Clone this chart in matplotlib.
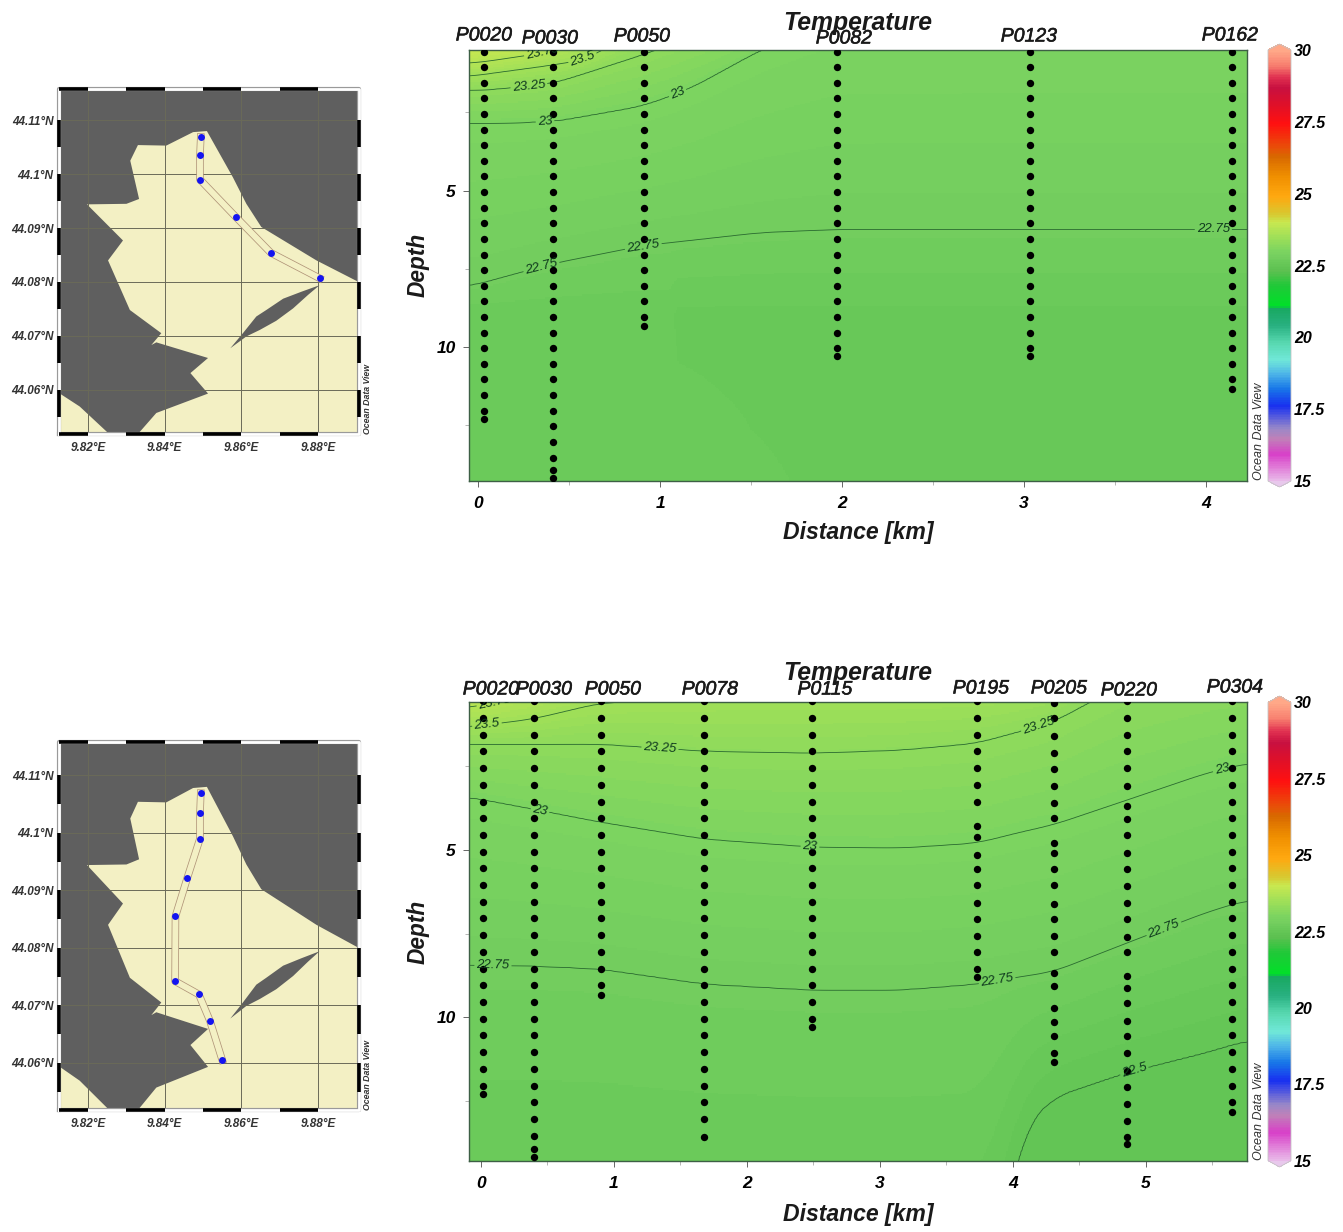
import numpy as np
import matplotlib
matplotlib.use("Agg")
from matplotlib import pyplot as plt
from matplotlib import patheffects
from matplotlib.colors import LinearSegmentedColormap, Normalize
from matplotlib.cm import ScalarMappable

plt.rcParams['font.family'] = ['Liberation Sans', 'DejaVu Sans']

W, H = 1343, 1232

# --- map data (lon, lat) ---
sea_lon = [9.8906, 9.8796, 9.8652, 9.8613, 9.8578, 9.8510, 9.8474, 9.8404, 9.8330, 9.8310, 9.8333, 9.8300,
           9.8197, 9.8291, 9.8252, 9.8309, 9.8391, 9.8365, 9.8378, 9.8513, 9.8467, 9.8513, 9.8378, 9.8330, 9.8907]
sea_lat = [44.0800, 44.0840, 44.0902, 44.0945, 44.0994, 44.1080, 44.1078, 44.1053, 44.1054, 44.1025, 44.0954, 44.0945,
           44.0944, 44.0877, 44.0840, 44.0748, 44.0705, 44.0683, 44.0688, 44.0659, 44.0631, 44.0593, 44.0557, 44.0518, 44.0518]
corner_lon = [9.8124, 9.8178, 9.8252, 9.8260, 9.8124]
corner_lat = [44.0594, 44.0569, 44.0520, 44.0518, 44.0518]
island_lon = [9.8804, 9.8757, 9.8709, 9.8665, 9.8639, 9.8604, 9.8571, 9.8613, 9.8648, 9.8691, 9.8735, 9.8774]
island_lat = [44.0794, 44.0782, 44.0769, 44.0748, 44.0736, 44.0705, 44.0677, 44.0699, 44.0711, 44.0728, 44.0751, 44.0776]

track1_lon = [9.8494, 9.8492, 9.8492, 9.8585, 9.8677, 9.8804]
track1_lat = [44.1069, 44.1035, 44.0990, 44.0921, 44.0854, 44.0807]
track2_lon = [9.8494, 9.8492, 9.8492, 9.8459, 9.8428, 9.8427, 9.8489, 9.8518, 9.8550]
track2_lat = [44.1069, 44.1034, 44.0990, 44.0922, 44.0855, 44.0742, 44.0719, 44.0673, 44.0605]

lon_ticks = [9.82, 9.84, 9.86, 9.88]
lat_ticks = [44.11, 44.10, 44.09, 44.08, 44.07, 44.06]
lon_tick_labels = ['9.82°E', '9.84°E', '9.86°E', '9.88°E']
lat_tick_labels = ['44.11°N', '44.1°N', '44.09°N', '44.08°N', '44.07°N', '44.06°N']

# --- station data ---
levels = [0.55, 1.05, 1.55, 2.05, 2.55, 3.05, 3.55, 4.05, 4.55, 5.05, 5.55, 6.05, 6.55, 7.05, 7.55, 8.05, 8.55,
          9.05, 9.55, 10.05, 10.55, 11.05, 11.55, 12.05, 12.55, 13.05, 13.55, 13.95]

names1 = ['P0020', 'P0030', 'P0050', 'P0082', 'P0123', 'P0162']
dist1 = [0.03, 0.41, 0.91, 1.97, 3.03, 4.14]
bottom1 = [12.3, 14.2, 9.33, 10.3, 10.3, 11.35]

names2 = ['P0020', 'P0030', 'P0050', 'P0078', 'P0115', 'P0195', 'P0205', 'P0220', 'P0304']
dist2 = [0.015, 0.40, 0.90, 1.68, 2.49, 3.73, 4.31, 4.86, 5.65]
bottom2 = [12.3, 14.2, 9.34, 13.6, 10.3, 8.8, 11.35, 13.8, 12.85]
p0195_depths = [0.55, 1.05, 1.55, 2.05, 2.55, 3.05, 3.55, 4.28, 4.6, 5.15, 5.57, 6.05, 6.6, 7.07, 7.57, 8.05, 8.57, 8.8]
p0205_depths = [0.6, 1.05, 1.58, 2.1, 2.57, 3.08, 3.6, 4.05, 4.79, 5.09, 5.57, 6.05, 6.62, 7.07, 7.57, 8.05, 8.68,
                9.07, 9.73, 10.15, 10.57, 11.08, 11.35]
p0220_depths = [0.55, 1.05, 1.55, 2.05, 2.55, 3.08, 3.68, 4.07, 4.55, 5.09, 5.57, 6.08, 6.58, 7.07, 7.6, 8.05, 8.77,
                9.13, 9.58, 10.12, 10.57, 11.08, 11.62, 12.1, 12.6, 13.1, 13.6, 13.8]

# --- temperature field, as depth of each isotherm along the section ---
iso_temps1 = [23.75, 23.5, 23.25, 23.0, 22.75]
iso_temps2 = [23.75, 23.5, 23.25, 23.0, 22.75, 22.5]

nodes1 = [-0.05, 0.03, 0.41, 0.6, 0.91, 1.165, 1.55, 1.97, 3.03, 4.225]
iso1_2375 = [0.93, 0.88, 0.55, -0.2, -0.7, -0.9, -1.3, -1.6, -1.6, -1.6]
iso1_235 = [1.35, 1.28, 0.98, 0.8, -0.3, -0.6, -1.0, -1.3, -1.3, -1.3]
iso1_2325 = [1.79, 1.79, 1.57, 1.22, 0.64, 0.1, -0.5, -1.0, -1.0, -1.0]
iso1_23 = [2.85, 2.85, 2.79, 2.6, 2.28, 1.73, 0.5, -0.5, -0.6, -0.6]
iso1_2275 = [8.08, 7.95, 7.34, 7.12, 6.76, 6.6, 6.35, 6.25, 6.25, 6.25]
deep1_nodes = [-0.05, 1.05, 1.1, 1.3, 1.5, 1.72, 1.8, 4.225]
deep1_t9 = [22.635, 22.635, 22.6, 22.6, 22.6, 22.6, 22.6, 22.6]
deep1_t14 = [22.66, 22.66, 22.66, 22.64, 22.625, 22.617, 22.6, 22.59]

nodes2 = [-0.09, 0.39, 0.895, 1.68, 2.49, 3.15, 3.73, 4.0, 4.09, 4.30, 4.86, 5.46, 5.76]
iso2_2375 = [0.75, 0.30, -0.1, -0.3, -0.3, -0.3, -0.3, -0.3, -0.33, -0.4, -1.5, -1.5, -1.5]
iso2_235 = [1.32, 1.08, 0.6, 0.45, 0.4, 0.4, 0.35, 0.3, 0.24, 0.1, -0.6, -1.0, -1.0]
iso2_2325 = [1.83, 1.83, 1.83, 2.04, 2.10, 2.01, 1.80, 1.5, 1.41, 1.17, -0.03, -0.5, -0.6]
iso2_23 = [3.41, 3.77, 4.16, 4.67, 4.91, 4.94, 4.79, 4.52, 4.43, 4.25, 3.50, 2.69, 2.40]
iso2_2275 = [8.44, 8.47, 8.56, 9.01, 9.19, 9.19, 9.01, 8.83, 8.77, 8.65, 7.78, 6.86, 6.50]
iso2_225 = [20.0, 20.0, 20.0, 20.0, 20.0, 20.0, 20.0, 14.6, 13.29, 12.4, 11.65, 11.05, 10.69]

label_pos1 = [(0.357, 0.67), (0.577, 0.83), (0.28, 1.73), (0.368, 2.79), (1.10, 1.96), (0.346, 7.40), (0.907, 6.76), (4.04, 6.19)]
label_pos2 = [(0.195, 0.66), (0.045, 1.26), (1.346, 1.95), (0.444, 3.83), (2.474, 4.88), (4.2, 1.38), (5.57, 2.54),
              (0.09, 8.47), (3.88, 8.89), (5.13, 7.31), (4.89, 11.47)]
label_fmt = {23.75: '23.75', 23.5: '23.5', 23.25: '23.25', 23.0: '23', 22.75: '22.75', 22.5: '22.5'}

# --- ODV colour bar ---
cbar_ticks = [30, 27.5, 25, 22.5, 20, 17.5, 15]
cbar_labels = ['30', '27.5', '25', '22.5', '20', '17.5', '15']
cmap_temps = [15, 15.9, 16.45, 16.8, 17.6, 18.2, 18.75, 19.2, 19.8, 20.4, 21.02, 21.08, 21.8, 22.3, 22.6, 22.75, 23.0,
              23.5, 24.0, 24.3, 24.9, 25.6, 26.3, 26.6, 27.45, 28.1, 28.7, 29.07, 29.5, 30]
cmap_colors = ['#e8b8e8', '#d840c8', '#c080b8', '#9888c8', '#1830f0', '#1878e8', '#50b8e8', '#70e8d8', '#58d8b0',
               '#28b080', '#18a860', '#00e028', '#20c838', '#5cc050', '#68c858', '#72cd5e', '#7cd460', '#a0e058',
               '#c8e850', '#d8c830', '#ffa810', '#f09000', '#d86800', '#e85008', '#ff1010', '#e01028', '#c81040',
               '#e03050', '#f88070', '#ffa888']
odv = LinearSegmentedColormap.from_list('odv', [((t - 15) / 15, c) for t, c in zip(cmap_temps, cmap_colors)], N=256)
odv.set_under('#e8c8ec')
odv.set_over('#ffa888')
norm = Normalize(15, 30)


def px_axes(fig, x0, y0, x1, y1):
    return fig.add_axes([x0 / W, 1 - y1 / H, (x1 - x0) / W, (y1 - y0) / H])


def px_text(fig, x, y, s, stroke=0, **kw):
    t = fig.text(x / W, 1 - y / H, s, ha=kw.pop('ha', 'center'), va=kw.pop('va', 'center'), style='italic', **kw)
    if stroke:
        t.set_path_effects([patheffects.withStroke(linewidth=stroke, foreground=t.get_color())])


def draw_map(fig, box, lon, lat):
    ax = px_axes(fig, *box)
    ax.set_facecolor('#5f5f5f')
    ax.fill(sea_lon, sea_lat, color='#f3f0c4', lw=0, zorder=1)
    ax.fill(corner_lon, corner_lat, color='#f3f0c4', lw=0, zorder=1)
    ax.fill(island_lon, island_lat, color='#5f5f5f', lw=0, zorder=1.5)
    for v in lon_ticks:
        ax.axvline(v, color='#6a6a58', lw=0.7, zorder=2)
    for v in lat_ticks:
        ax.axhline(v, color='#6a6a58', lw=0.7, zorder=2)
    # the section band, then the stations on it
    ax.plot(lon, lat, color='#b09478', lw=5.4, solid_capstyle='projecting', zorder=3)
    ax.plot(lon, lat, color='#f3f0c4', lw=4.3, solid_capstyle='projecting', zorder=3.1)
    ax.plot(lon, lat, 'o', color='#1414f0', ms=5, mec='none', zorder=4)
    ax.set_xlim(9.8124, 9.8907)
    ax.set_ylim(44.0518, 44.1158)
    ax.set_xticks(lon_ticks)
    ax.set_xticklabels(lon_tick_labels, fontsize=8.5, fontweight='bold', style='italic', color='#333333')
    ax.set_yticks(lat_ticks)
    ax.set_yticklabels(lat_tick_labels, fontsize=8.5, fontweight='bold', style='italic', color='#333333')
    ax.tick_params(axis='x', length=0, pad=6)
    ax.tick_params(axis='y', length=0, pad=4)
    for s in ax.spines.values():
        s.set_visible(False)
    # black and white frame on a grey edge
    x0, x1, y0, y1 = 9.8124, 9.8907, 44.0518, 44.1158
    ax.plot([x0, x1, x1, x0, x0], [y0, y0, y1, y1, y0], color='#9a9a9a', lw=3, clip_on=False, zorder=5)
    ax.plot([x0, x1, x1, x0, x0], [y0, y0, y1, y1, y0], color='white', lw=2, clip_on=False, zorder=5.5)
    x_edges = [x0, 9.82, 9.83, 9.84, 9.85, 9.86, 9.87, 9.88]
    for i in range(0, len(x_edges) - 1, 2):
        for y in (y0, y1):
            ax.plot(x_edges[i:i + 2], [y, y], color='black', lw=2.6, clip_on=False, solid_capstyle='butt', zorder=6)
    for v in lat_ticks:
        for x in (x0, x1):
            ax.plot([x, x], [v - 0.005, v], color='black', lw=2.6, clip_on=False, solid_capstyle='butt', zorder=6)
    ax.text(1.027, 0.0, 'Ocean Data View', transform=ax.transAxes, rotation=90, fontsize=6.3, style='italic',
            ha='center', va='bottom', color='#333333', fontweight='bold')
    return ax


def build_field(dd, zz, nodes, iso_rows, iso_temps, deep_rows, deep_temps):
    # smooth each isotherm along the section, then fill the depth profiles from them
    field = np.zeros((len(zz), len(dd)))
    smooth = np.ones(25) / 25
    rows = []
    for row in iso_rows:
        line = np.interp(dd, nodes, row)
        pad = np.r_[np.full(12, line[0]), line, np.full(12, line[-1])]
        rows.append(np.convolve(pad, smooth, mode='valid'))
    rows = np.array(rows)
    for j in range(len(dd)):
        depths = list(rows[:, j])
        temps = list(iso_temps)
        for z_row, t_row in zip(deep_rows, deep_temps):
            depths.append(z_row[j])
            temps.append(t_row[j])
        depths = [depths[0] - 1.0] + depths
        temps = [24.35] + temps
        depths = np.maximum.accumulate(np.array(depths) + np.arange(len(depths)) * 1e-4)
        field[:, j] = np.interp(zz, depths, temps)
    return field


def draw_section(fig, box, xlim, ylim, field_args, names, dist, dots, label_pos, name_pos, title_y, depth_y, dist_y, xticks):
    ax = px_axes(fig, *box)
    ax.set_xticks(xticks)
    ax.set_xticks([v + 0.5 for v in xticks if v + 0.5 < xlim[1]], minor=True)
    ax.set_yticks([5, 10])
    ax.set_yticks([2.5, 7.5, 12.5], minor=True)
    ax.set_xlim(*xlim)
    ax.set_ylim(*ylim)
    dd = np.linspace(xlim[0], xlim[1], 500)
    zz = np.linspace(ylim[1], ylim[0], 300)
    field = build_field(dd, zz, *field_args)
    ax.pcolormesh(dd, zz, field, cmap=odv, norm=norm, shading='auto', zorder=1)
    for d, z in zip(dist, dots):
        ax.plot([d] * len(z), z, 'o', color='black', ms=5.3, mec='none', zorder=3)
    cs = ax.contour(dd, zz, field, levels=sorted(label_fmt), colors='#2a6a30', linewidths=0.6, zorder=2)
    labels = ax.clabel(cs, manual=label_pos, fmt=label_fmt, inline=True, fontsize=9.5, inline_spacing=2)
    for t in labels:
        t.set_style('italic')
        t.set_color('#0f3a1e')
        t.set_zorder(4)
    ax.set_xlim(*xlim)
    ax.set_ylim(*ylim)
    ax.tick_params(which='major', length=4.5, width=0.7, color='#666666', labelsize=12.5)
    ax.tick_params(axis='x', which='major', pad=6)
    ax.tick_params(axis='y', which='major', pad=5)
    ax.tick_params(which='minor', length=3, width=0.6, color='#aaaaaa')
    for t in ax.get_xticklabels() + ax.get_yticklabels():
        t.set_fontweight('bold')
        t.set_fontstyle('italic')
    for s in ax.spines.values():
        s.set_color('#3d5f45')
        s.set_linewidth(1.0)

    for (x, y), n in zip(name_pos, names):
        px_text(fig, x, y, n, stroke=0.4, fontsize=14, color='#1a1a1a')
    px_text(fig, 858, title_y, 'Temperature', fontsize=17.8, fontweight='bold', color='#1a1a1a')
    px_text(fig, 418, depth_y, 'Depth', fontsize=16.3, fontweight='bold', rotation=90, color='#1a1a1a')
    px_text(fig, 858, dist_y, 'Distance [km]', fontsize=16.6, fontweight='bold', color='#1a1a1a')
    px_text(fig, box[2] + 12, box[3] - 1, 'Ocean Data View', fontsize=9, rotation=90, va='bottom', color='#333333')

    # the tips of the bar are drawn inside cax, so it runs 6 px past the section
    cax = px_axes(fig, 1268, box[1] - 6, 1291, box[3] + 6)
    cb = fig.colorbar(ScalarMappable(norm=norm, cmap=odv), cax=cax, extend='both', extendfrac=0.014)
    cb.outline.set_edgecolor('#c4c4c4')
    cb.outline.set_linewidth(0.6)
    cb.set_ticks(cbar_ticks)
    cb.set_ticklabels(cbar_labels)
    cb.ax.tick_params(length=0, pad=2, labelsize=11.5)
    for t in cb.ax.get_yticklabels():
        t.set_fontweight('bold')
        t.set_fontstyle('italic')
    return ax


def station_dots(bottoms):
    return [[z for z in levels if z < b - 0.1] + [b] for b in bottoms]


fig = plt.figure(figsize=(W / 100, H / 100), dpi=100, facecolor='white')

draw_map(fig, (59, 89, 359, 434), track1_lon, track1_lat)
draw_map(fig, (59, 742, 359, 1110), track2_lon, track2_lat)

d1 = np.linspace(-0.05, 4.225, 500)
deep1_depths = [np.full(500, 9.0), np.full(500, 14.3)]
deep1_temps = [np.interp(d1, deep1_nodes, deep1_t9), np.interp(d1, deep1_nodes, deep1_t14)]
draw_section(fig, (469, 50, 1247, 481), (-0.05, 4.225), (14.3, 0.5),
             (nodes1, [iso1_2375, iso1_235, iso1_2325, iso1_23, iso1_2275], iso_temps1, deep1_depths, deep1_temps),
             names1, dist1, station_dots(bottom1), label_pos1,
             [(484, 36), (550, 39), (642, 37), (844, 39), (1029, 37), (1230, 36)], 23, 265, 532, [0, 1, 2, 3, 4])

dots2 = station_dots(bottom2)
dots2[5] = p0195_depths
dots2[6] = p0205_depths
dots2[7] = p0220_depths
# depth 40 closes the profile under the 22.5 isotherm
draw_section(fig, (469, 702, 1247, 1161), (-0.09, 5.76), (14.31, 0.57),
             (nodes2, [iso2_2375, iso2_235, iso2_2325, iso2_23, iso2_2275, iso2_225], iso_temps2,
              [np.full(500, 40.0)], [np.full(500, 22.2)]),
             names2, dist2, dots2, label_pos2,
             [(491, 690), (544, 690), (613, 690), (710, 690), (825, 690), (981, 689), (1059, 689), (1129, 691), (1235, 688)],
             673, 932, 1215, [0, 1, 2, 3, 4, 5])

fig.savefig('out.png', dpi=100, facecolor='white')
